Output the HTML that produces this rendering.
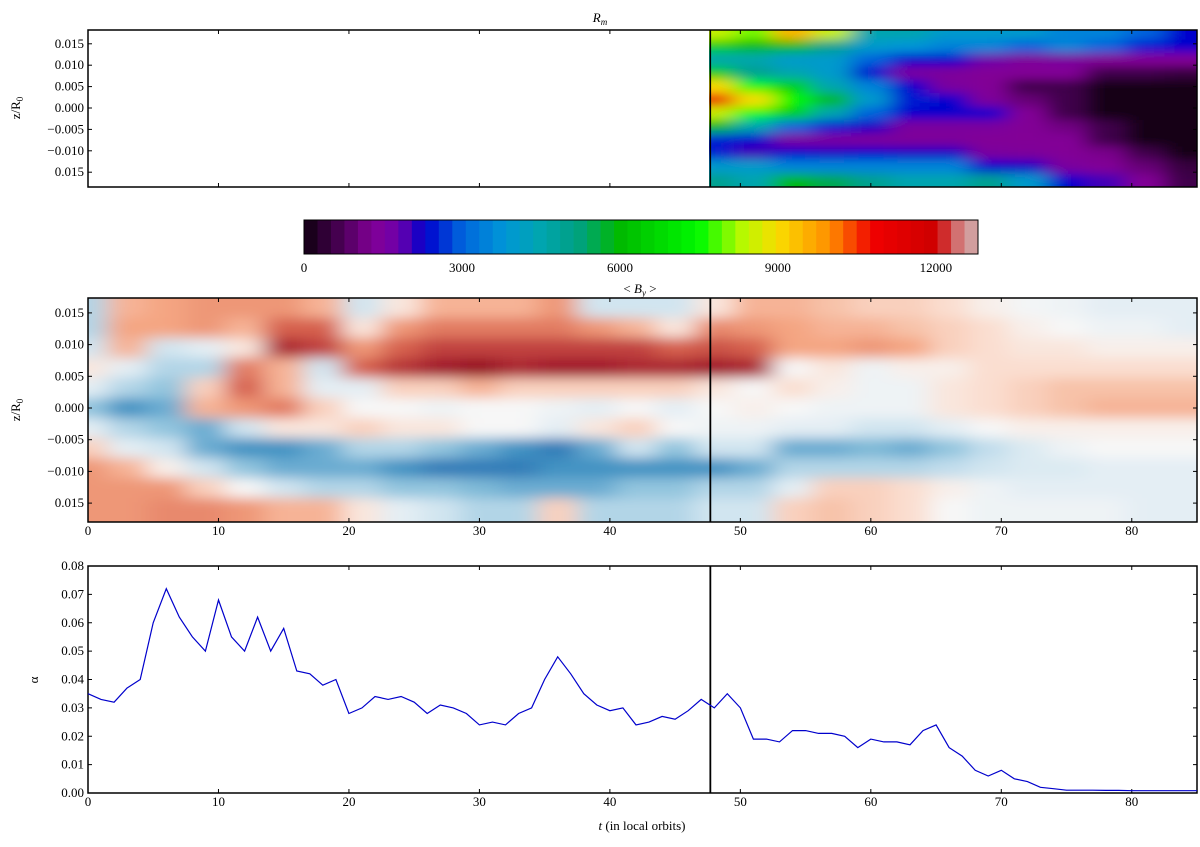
<!DOCTYPE html>
<html><head><meta charset="utf-8"><style>
body{margin:0;background:#fff;width:1200px;height:842px;overflow:hidden}
svg text{font-family:"Liberation Serif",serif;font-size:13px;fill:#000}
</style></head><body>
<svg id="fig" width="1200" height="842" viewBox="0 0 1200 842" xmlns="http://www.w3.org/2000/svg">
<defs>
<clipPath id="cTop"><rect x="709" y="30" width="488" height="157"/></clipPath>
<clipPath id="cMid"><rect x="88" y="298" width="1109" height="224"/></clipPath>
<filter id="blurT" x="-10%" y="-10%" width="120%" height="120%"><feGaussianBlur stdDeviation="11 5"/></filter>
<filter id="blurM" x="-10%" y="-10%" width="120%" height="120%"><feGaussianBlur stdDeviation="12 6"/></filter>
</defs>
<g id="gTop" clip-path="url(#cTop)"></g>
<g id="gMid" clip-path="url(#cMid)"></g>
<g id="gBar"></g>
<g id="gAxes"></g>
</svg>
<script>
const NS="http://www.w3.org/2000/svg";
const svg=document.getElementById('fig');
function mk(tag,attrs,parent){const e=document.createElementNS(NS,tag);for(const k in attrs)e.setAttribute(k,attrs[k]);(parent||svg).appendChild(e);return e;}

// ---- data ----
const rmRows=[0.0175,0.0144,0.0113,0.0082,0.0051,0.0019,-0.0012,-0.0043,-0.0074,-0.0105,-0.0136,-0.0171];
const rmTimes=[48,51,54,57,60,63,66,69,72,75,78,81,84];
const rmValues=[
[8500,6500,4500,6500,9000,11000,8500,6000,2500,2500,4000,5000],
[8000,6000,4500,5000,7500,9000,7500,4500,2300,2000,4000,4500],
[9500,6000,4000,4500,6500,7500,6500,3000,1500,2300,3500,6000],
[8500,5000,4000,4000,4500,6000,4500,2500,1500,2200,3500,5500],
[4500,4000,3000,2300,3500,4000,3000,2200,1400,2300,3500,5000],
[4500,3800,2300,1500,2300,2500,2300,1500,1400,2200,3500,4500],
[4000,3500,2300,1400,1500,2300,2300,1500,1400,2200,3500,4500],
[4000,3500,1800,1300,1300,1400,2300,1500,1300,1500,2300,5000],
[4000,3000,1400,1300,600,1000,1300,1300,1300,1400,2200,4000],
[3500,3500,1500,1300,600,600,600,1100,1300,1300,1500,2300],
[3500,3000,1300,600,100,100,100,600,600,1200,1300,2000],
[3000,2500,1300,600,50,50,50,50,100,600,1000,1300],
[2300,2300,1300,500,50,50,50,50,50,50,500,600]];
const byRows=[0.0158,0.0126,0.0095,0.0063,0.0032,0,-0.0032,-0.0063,-0.0095,-0.0126,-0.0158];
const byTimes=[0,3,6,9,12,15,18,21,24,27,30,33,36,39,42,45,48,51,54,57,60,63,66,69,72,75,78,81,84];
const byValues=[
[-0.3,-0.3,-0.2,0.1,-0.1,-0.4,-0.1,0.2,0.4,0.4,0.4],
[0.3,0.35,0.3,-0.1,-0.3,-0.6,-0.3,-0.1,0.3,0.4,0.4],
[0.35,0.35,-0.2,-0.3,-0.4,-0.5,-0.4,-0.2,0.05,0.4,0.45],
[0.4,0.4,-0.1,-0.3,0.2,0.3,-0.5,-0.5,-0.2,0.2,0.45],
[0.4,0.3,0.1,0.5,0.6,0.4,-0.2,-0.6,-0.4,0,0.4],
[0.4,0.6,0.8,0.3,0.3,0.5,0.1,-0.6,-0.5,-0.2,0.3],
[0.3,0.6,0.7,-0.2,-0.1,0.2,0.1,-0.5,-0.5,-0.3,0.3],
[-0.2,0.1,0.4,0.6,-0.1,0,0.2,-0.3,-0.5,-0.3,0.1],
[0.1,0.4,0.6,0.75,0.2,0,0.1,-0.3,-0.6,-0.4,-0.1],
[0.3,0.5,0.7,0.85,0.2,-0.05,0.1,-0.4,-0.7,-0.4,-0.2],
[0.3,0.5,0.7,0.9,0.3,0,0,-0.5,-0.7,-0.45,-0.3],
[0.3,0.5,0.7,0.8,0.2,0,0,-0.6,-0.7,-0.5,-0.3],
[0.4,0.5,0.7,0.85,0.2,-0.05,-0.1,-0.7,-0.6,-0.5,0.2],
[-0.2,0.4,0.7,0.85,0.2,-0.1,0.1,-0.5,-0.6,-0.5,-0.3],
[-0.2,0.3,0.7,0.8,0.2,0,0.2,-0.2,-0.6,-0.4,-0.3],
[-0.2,0.1,0.6,0.8,0.2,-0.1,0,-0.4,-0.6,-0.4,-0.3],
[0.1,0.45,0.65,0.85,0.1,0,-0.05,-0.2,-0.6,-0.3,-0.2],
[0.3,0.4,0.6,0.8,0,0.05,-0.05,-0.2,-0.5,-0.3,-0.2],
[0.3,0.35,0.35,0,0.15,0,-0.1,-0.5,-0.3,-0.1,0.2],
[0.25,0.3,0.35,0.1,0.05,-0.05,-0.1,-0.5,-0.3,0.2,0.25],
[0.2,0.3,0.4,-0.05,-0.05,-0.05,-0.2,-0.45,-0.3,0.2,0.2],
[0.2,0.25,0.35,0.05,-0.05,-0.05,-0.2,-0.5,-0.3,0.15,0.15],
[0.15,0.2,0.2,0.05,0.1,0.1,-0.1,-0.4,-0.25,0.05,0],
[0.05,0.15,0.15,0.15,0.15,0.15,0,-0.25,-0.2,-0.05,-0.05],
[-0.02,0.05,0.1,0.15,0.2,0.2,0.05,-0.15,-0.15,-0.1,-0.05],
[-0.05,0,0.1,0.15,0.25,0.25,0.05,-0.05,-0.15,-0.1,-0.05],
[-0.1,-0.05,0.05,0.15,0.25,0.3,0.05,0,-0.1,-0.1,-0.05],
[-0.1,-0.05,0.05,0.15,0.25,0.3,0.05,0,-0.1,-0.1,-0.1],
[-0.1,-0.1,0.05,0.15,0.25,0.3,0.05,0,-0.1,-0.1,-0.1]];
const alphaTimes=[0,1,2,3,4,5,6,7,8,9,10,11,12,13,14,15,16,17,18,19,20,21,22,23,24,25,26,27,28,29,30,31,32,33,34,35,36,37,38,39,40,41,42,43,44,45,46,47,48,49,50,51,52,53,54,55,56,57,58,59,60,61,62,63,64,65,66,67,68,69,70,71,72,73,74,75,76,77,78,79,80,81,82,83,84,85];
const alphaValues=[0.035,0.033,0.032,0.037,0.040,0.060,0.072,0.062,0.055,0.050,0.068,0.055,0.050,0.062,0.050,0.058,0.043,0.042,0.038,0.040,0.028,0.030,0.034,0.033,0.034,0.032,0.028,0.031,0.030,0.028,0.024,0.025,0.024,0.028,0.030,0.040,0.048,0.042,0.035,0.031,0.029,0.030,0.024,0.025,0.027,0.026,0.029,0.033,0.030,0.035,0.030,0.019,0.019,0.018,0.022,0.022,0.021,0.021,0.020,0.016,0.019,0.018,0.018,0.017,0.022,0.024,0.016,0.013,0.008,0.006,0.008,0.005,0.004,0.002,0.0015,0.001,0.001,0.001,0.0009,0.0009,0.0008,0.0008,0.0008,0.0008,0.0008,0.0008];
const xTicks=[0,10,20,30,40,50,60,70,80];
const zTicks=[0.015,0.010,0.005,0.000,-0.005,-0.010,-0.015];
const zTickLabels=['0.015','0.010','0.005','0.000','\u22120.005','\u22120.010','0.015'];
const aTicks=[0,0.01,0.02,0.03,0.04,0.05,0.06,0.07,0.08];
const cbTicks=[0,3000,6000,9000,12000];
const splitT=47.7;

// ---- scales ----
const X0=88,X1=1197,TMAX=85;
const xs=t=>X0+(X1-X0)*t/TMAX;
const zTop=z=>108-z/0.005*21.4;
const zMid=z=>408-z/0.005*31.7;
const ya=a=>793-a/0.08*227;
const cbx=v=>304+v/12800*674;

function lerp(a,b,f){return a+(b-a)*f}
function cm(stops,v){
 if(v<=stops[0][0])return stops[0][1];
 for(let i=1;i<stops.length;i++){if(v<=stops[i][0]){const f=(v-stops[i-1][0])/(stops[i][0]-stops[i-1][0]);const a=stops[i-1][1],b=stops[i][1];return a.map((x,k)=>Math.round(lerp(x,b[k],f)));}}
 return stops[stops.length-1][1];
}
const spec=[[0,[15,0,15]],[600,[65,0,75]],[1300,[130,0,150]],[1800,[110,0,170]],[2300,[0,0,205]],[3000,[0,100,220]],[3800,[0,150,215]],[4500,[0,165,175]],[5200,[0,160,130]],[6000,[0,185,0]],[7500,[0,250,0]],[8300,[180,250,0]],[9000,[250,220,0]],[10000,[255,140,0]],[10800,[240,0,0]],[12000,[205,0,0]],[12400,[210,110,110]],[12800,[210,180,180]]];
const rdbu=[[-1,[5,48,97]],[-0.8,[33,102,172]],[-0.6,[67,147,195]],[-0.4,[146,197,222]],[-0.2,[209,229,240]],[0,[247,247,247]],[0.15,[250,222,208]],[0.35,[244,165,130]],[0.6,[214,96,77]],[0.9,[150,10,35]],[1,[103,0,31]]];
const rgb=c=>`rgb(${c[0]},${c[1]},${c[2]})`;

function heat(group,filt,times,rows,vals,yf,map,xmin,xmax,ymin,ymax,name){
 const g=mk('g',{filter:filt},group);
 times.forEach((t,i)=>{rows.forEach((z,j)=>{
  const x0=i===0?xmin:xs((times[i-1]+t)/2),x1=i===times.length-1?xmax:xs((t+times[i+1])/2);
  const y0=j===0?ymin:yf((rows[j-1]+z)/2),y1=j===rows.length-1?ymax:yf((z+rows[j+1])/2);
  const r=mk('rect',{x:x0,y:y0,width:x1-x0+1,height:y1-y0+1,fill:rgb(cm(map,vals[i][j]))},g);
  
  
 });});
}
heat(document.getElementById('gTop'),'url(#blurT)',rmTimes,rmRows,rmValues,zTop,spec,690,1220,10,205,'rm-cell');
heat(document.getElementById('gMid'),'url(#blurM)',byTimes,byRows,byValues,zMid,rdbu,60,1225,280,540,'by-cell');

// ---- colorbar ----
const gBar=document.getElementById('gBar');
for(let v=0;v<12800;v+=256){const r=mk('rect',{x:cbx(v),y:220,width:cbx(v+256)-cbx(v)+0.5,height:34,fill:rgb(cm(spec,v+128))},gBar);
 
 }
mk('rect',{x:304,y:220,width:674,height:34,fill:'none',stroke:'#000','stroke-width':1},gBar);
cbTicks.forEach(v=>{const t=mk('text',{x:cbx(v),y:272,'text-anchor':'middle'},gBar);t.textContent=v;
 
 });

// ---- axes ----
const gA=document.getElementById('gAxes');
function frame(y0,y1,name){const r=mk('rect',{x:X0,y:y0,width:X1-X0,height:y1-y0,fill:'none',stroke:'#000','stroke-width':1.5},gA);
 
 
 xTicks.forEach(t=>{mk('line',{x1:xs(t),x2:xs(t),y1:y0,y2:y0+4,stroke:'#000'},gA);mk('line',{x1:xs(t),x2:xs(t),y1:y1,y2:y1-4,stroke:'#000'},gA);});}
frame(30,187,'rm-panel-frame');
frame(298,522,'by-panel-frame');
frame(566,793,'alpha-panel-frame');
[[298,522],[566,793]].forEach(([a,b])=>{const l=mk('line',{x1:xs(splitT),x2:xs(splitT),y1:a,y2:b,stroke:'#000','stroke-width':1.8},gA);
 
 });
mk('line',{x1:xs(splitT),x2:xs(splitT),y1:30,y2:187,stroke:'#000','stroke-width':1.5},gA);
[[zTop,'rm'],[zMid,'by']].forEach(([f,n])=>{zTicks.forEach((z,i)=>{const y=f(z);
 mk('line',{x1:X0,x2:X0+4,y1:y,y2:y,stroke:'#000'},gA);mk('line',{x1:X1,x2:X1-4,y1:y,y2:y,stroke:'#000'},gA);
 const t=mk('text',{x:84,y:y+4,'text-anchor':'end'},gA);t.textContent=zTickLabels[i];
 
 });});
[535,806].forEach(y=>xTicks.forEach(v=>{const t=mk('text',{x:xs(v),y:y,'text-anchor':'middle'},gA);t.textContent=v;
 
 }));
aTicks.forEach(a=>{const y=ya(a);mk('line',{x1:X0,x2:X0+4,y1:y,y2:y,stroke:'#000'},gA);mk('line',{x1:X1,x2:X1-4,y1:y,y2:y,stroke:'#000'},gA);
 const t=mk('text',{x:84,y:y+4,'text-anchor':'end'},gA);t.textContent=a.toFixed(2);
 
 });
let d='';alphaTimes.forEach((t,i)=>{d+=(i?'L':'M')+xs(t).toFixed(1)+','+ya(alphaValues[i]).toFixed(1);});
const pl=mk('path',{d:d,fill:'none',stroke:'#0000cc','stroke-width':1.2},gA);


function txt(x,y,s,name,extra){const t=mk('text',Object.assign({x:x,y:y,'text-anchor':'middle'},extra||{}),gA);t.innerHTML=s;
 
 return t;}
txt(600,22,'<tspan font-style="italic">R</tspan><tspan font-style="italic" font-size="9" dy="3">m</tspan>','rm-title',{'font-size':'15'});
txt(640,293,'&lt; <tspan font-style="italic">B</tspan><tspan font-style="italic" font-size="9" dy="3">y</tspan><tspan dy="-3"> &gt;</tspan>','by-title',{'font-size':'15'});
txt(20,108,'z/R<tspan font-size="9" dy="3">0</tspan>','rm-y-axis-title',{transform:'rotate(-90 20 108)'});
txt(20,410,'z/R<tspan font-size="9" dy="3">0</tspan>','by-y-axis-title',{transform:'rotate(-90 20 410)'});
txt(38,680,'α','alpha-y-axis-title',{transform:'rotate(-90 38 680)'});
txt(642,830,'<tspan font-style="italic">t</tspan> (in local orbits)','x-axis-title',{'font-size':'14'});
</script>
</body></html>
